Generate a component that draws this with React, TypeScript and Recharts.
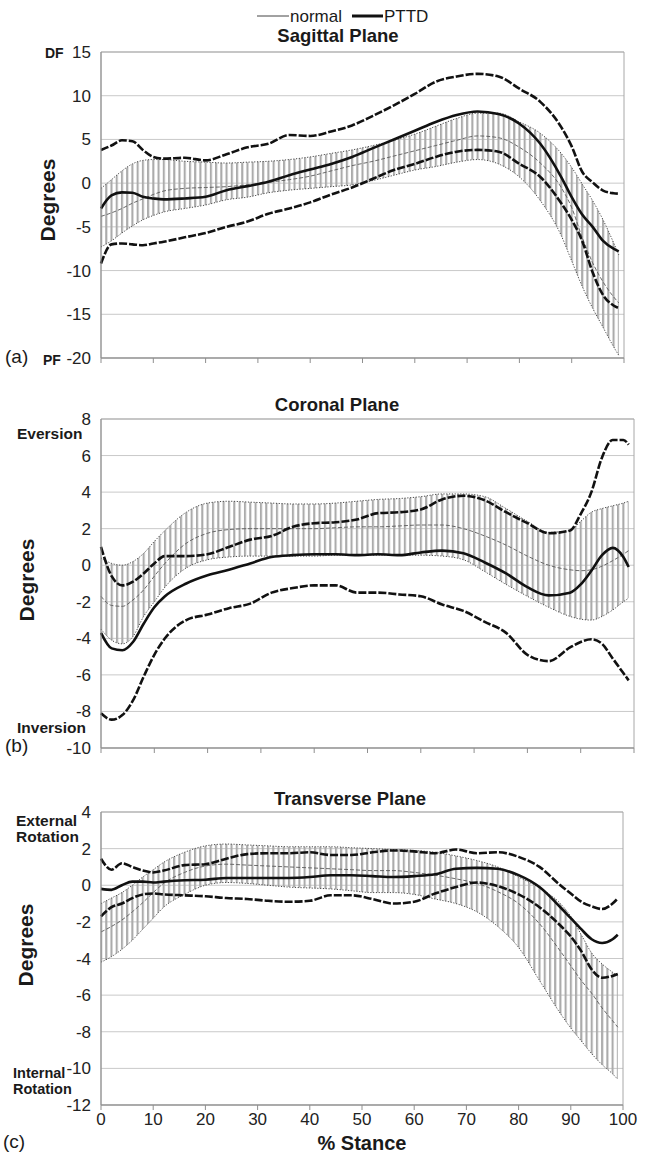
import React from 'react';
import { ComposedChart, Line, Area, XAxis, YAxis, CartesianGrid, ReferenceArea } from 'recharts';

// % stance sample points
const stance = [0, 2, 4, 6, 8, 10, 12, 16, 20, 24, 28, 32, 36, 40, 44, 48, 52, 56, 60, 64, 68, 72, 76, 80, 84, 88, 90, 92, 94, 96, 98, 99];
const xTicks = [0, 10, 20, 30, 40, 50, 60, 70, 80, 90, 100];

// (a) sagittal plane
const sagNormMean = [-3.8, -3.4, -2.9, -2.3, -1.8, -1.3, -0.9, -0.6, -0.5, -0.4, -0.2, 0.1, 0.4, 0.8, 1.4, 2.0, 2.5, 3.1, 3.7, 4.3, 4.9, 5.4, 5.2, 4.1, 2.3, -0.5, -2.8, -6.2, -9.1, -11.3, -13.0, -13.7];
const sagNormHi = [-0.6, 0.4, 1.4, 2.2, 2.6, 2.7, 2.7, 2.5, 2.4, 2.3, 2.4, 2.5, 2.7, 3.0, 3.4, 3.8, 4.3, 4.9, 5.6, 6.5, 7.4, 8.0, 8.0, 7.0, 5.7, 3.4, 1.8, -0.1, -2.0, -4.2, -6.8, -8.2];
const sagNormLo = [-7.3, -6.6, -5.7, -4.9, -4.2, -3.7, -3.3, -2.9, -2.5, -1.9, -1.6, -1.1, -0.8, -0.6, -0.4, -0.2, 0.3, 0.9, 1.5, 1.9, 2.4, 2.7, 2.2, 0.7, -2.0, -6.0, -8.9, -11.8, -14.3, -16.5, -18.7, -19.7];
const sagPttdMean = [-2.9, -1.4, -1.06, -1.1, -1.56, -1.75, -1.86, -1.75, -1.56, -0.8, -0.34, 0.15, 0.9, 1.56, 2.2, 3.0, 4.0, 5.0, 6.0, 7.0, 7.8, 8.2, 7.9, 6.8, 4.5, 0.7, -1.6, -3.6, -5.0, -6.6, -7.5, -7.8];
const sagPttdHi = [3.8, 4.3, 4.9, 4.8, 3.8, 3.0, 2.8, 2.9, 2.6, 3.3, 4.1, 4.5, 5.5, 5.4, 5.9, 6.6, 7.7, 8.9, 10.2, 11.6, 12.2, 12.5, 12.2, 10.8, 9.3, 6.4, 4.2, 1.3, 0.1, -0.85, -1.15, -1.2];
const sagPttdLo = [-9.2, -7.0, -6.9, -7.0, -7.1, -6.9, -6.7, -6.2, -5.7, -5.0, -4.4, -3.5, -2.9, -2.2, -1.3, -0.5, 0.5, 1.5, 2.2, 3.0, 3.6, 3.8, 3.6, 2.2, 0.7, -2.3, -4.2, -6.6, -10.2, -12.8, -14.0, -14.3];

// (b) coronal plane
const corNormMean = [-1.7, -2.2, -2.25, -1.9, -1.35, -0.6, 0.1, 1.2, 1.75, 1.95, 2.0, 2.0, 2.0, 2.0, 2.05, 2.1, 2.1, 2.15, 2.2, 2.2, 2.0, 1.6, 1.1, 0.5, 0.0, -0.25, -0.3, -0.25, -0.05, 0.25, 0.6, 0.8];
const corNormHi = [0.4, 0.1, 0.0, 0.2, 0.65, 1.3, 1.9, 2.9, 3.4, 3.5, 3.45, 3.4, 3.35, 3.35, 3.4, 3.5, 3.6, 3.65, 3.75, 3.9, 3.9, 3.75, 3.1, 2.4, 1.8, 1.9, 2.4, 2.9, 3.1, 3.25, 3.4, 3.5];
const corNormLo = [-3.5, -4.1, -4.3, -3.9, -2.8, -2.0, -1.2, -0.15, 0.3, 0.45, 0.5, 0.5, 0.5, 0.5, 0.55, 0.55, 0.55, 0.55, 0.55, 0.5, 0.3, -0.35, -1.05, -1.7, -2.3, -2.8, -2.95, -3.0, -2.8, -2.45, -2.0, -1.8];
const corPttdMean = [-3.7, -4.55, -4.65, -4.2, -3.2, -2.3, -1.7, -1.0, -0.55, -0.25, 0.1, 0.45, 0.55, 0.6, 0.6, 0.55, 0.6, 0.55, 0.7, 0.8, 0.65, 0.15, -0.45, -1.2, -1.65, -1.5, -1.05, -0.3, 0.55, 0.95, 0.45, -0.1];
const corPttdHi = [1.0, -0.6, -1.1, -0.9, -0.45, 0.1, 0.5, 0.5, 0.6, 1.0, 1.4, 1.6, 2.1, 2.3, 2.35, 2.5, 2.85, 2.9, 3.05, 3.6, 3.8, 3.55, 2.9, 2.3, 1.75, 1.9, 2.8, 4.0, 5.9, 6.85, 6.85, 6.6];
const corPttdLo = [-8.1, -8.45, -8.2, -7.4, -6.1, -4.9, -4.0, -3.0, -2.7, -2.35, -2.1, -1.5, -1.25, -1.1, -1.1, -1.5, -1.5, -1.6, -1.7, -2.15, -2.5, -3.1, -3.7, -4.9, -5.25, -4.5, -4.2, -4.05, -4.3, -5.1, -5.9, -6.3];

// (c) transverse plane
const traNormMean = [-2.55, -2.25, -1.9, -1.45, -0.95, -0.4, 0.1, 0.7, 1.05, 1.15, 1.1, 1.05, 1.0, 0.95, 0.9, 0.85, 0.8, 0.8, 0.7, 0.55, 0.35, 0.1, -0.35, -1.0, -2.1, -3.6, -4.4, -5.2, -5.9, -6.7, -7.4, -7.75];
const traNormHi = [-1.0, -0.7, -0.4, 0.0, 0.45, 0.85, 1.25, 1.8, 2.15, 2.25, 2.2, 2.15, 2.1, 2.1, 2.1, 2.05, 2.0, 1.95, 1.9, 1.8, 1.6, 1.35, 1.0, 0.45, -0.15, -1.0, -1.7, -2.7, -3.7, -4.3, -4.75, -4.95];
const traNormLo = [-4.2, -3.9, -3.5, -3.0, -2.4, -1.8, -1.2, -0.5, 0.0, 0.15, 0.1, 0.0, -0.1, -0.15, -0.2, -0.3, -0.4, -0.4, -0.5, -0.75, -1.0, -1.45, -2.25, -3.4, -5.2, -7.0, -7.8, -8.5, -9.2, -9.8, -10.3, -10.6];
const traPttdMean = [-0.2, -0.25, 0.0, 0.2, 0.2, 0.15, 0.2, 0.27, 0.3, 0.4, 0.4, 0.4, 0.4, 0.45, 0.55, 0.55, 0.5, 0.45, 0.5, 0.6, 0.9, 0.95, 0.9, 0.55, -0.1, -1.2, -1.8, -2.4, -2.95, -3.15, -2.95, -2.7];
const traPttdHi = [1.45, 0.85, 1.2, 1.0, 0.8, 0.7, 0.8, 1.1, 1.15, 1.45, 1.7, 1.75, 1.75, 1.8, 1.65, 1.65, 1.8, 1.9, 1.85, 1.75, 1.95, 1.75, 1.8, 1.55, 1.0, 0.0, -0.45, -0.9, -1.15, -1.3, -1.0, -0.72];
const traPttdLo = [-1.7, -1.2, -1.0, -0.7, -0.5, -0.45, -0.5, -0.55, -0.6, -0.7, -0.75, -0.85, -0.9, -0.85, -0.55, -0.55, -0.75, -1.0, -0.9, -0.45, -0.1, 0.15, -0.05, -0.5, -1.2, -2.2, -2.8, -3.6, -4.6, -5.05, -4.95, -4.85];

const sagTicks = [-20, -15, -10, -5, 0, 5, 10, 15];
const corTicks = [-10, -8, -6, -4, -2, 0, 2, 4, 6, 8];
const traTicks = [-12, -10, -8, -6, -4, -2, 0, 2, 4];

const FONT = '"Liberation Sans", Arial, sans-serif';
const PLOT_LEFT = 101;

interface PanelProps {
  id: string;
  top: number;
  height: number;
  plotTop: number;
  plotBottom: number;
  plotRight: number;
  domain: [number, number];
  ticks: number[];
  xLabels: boolean;
  xAxisHeight: number;
  normMean: number[];
  normLo: number[];
  normHi: number[];
  pttdMean: number[];
  pttdLo: number[];
  pttdHi: number[];
}

const Panel: React.FC<PanelProps> = (p) => {
  const data = stance.map((x, i) => ({
    x,
    normMean: p.normMean[i],
    normLo: p.normLo[i],
    normHi: p.normHi[i],
    band: [p.normLo[i], p.normHi[i]],
    pttdMean: p.pttdMean[i],
    pttdLo: p.pttdLo[i],
    pttdHi: p.pttdHi[i],
  }));
  const unit = (p.plotRight - PLOT_LEFT) / 100;
  const margin = {
    top: p.plotTop - p.top,
    right: 647 - p.plotRight,
    bottom: p.top + p.height - p.plotBottom - p.xAxisHeight,
    left: 0,
  };

  return (
    <div style={{ position: 'absolute', left: 0, top: p.top }}>
      <ComposedChart width={647} height={p.height} data={data} margin={margin}>
        <defs>
          <pattern id={`hatch-${p.id}`} patternUnits="userSpaceOnUse" x={PLOT_LEFT - 1} y={0} width={unit} height={10}>
            <rect x={0} y={0} width={2.1} height={10} fill="#ababab" />
          </pattern>
        </defs>
        <CartesianGrid vertical={false} stroke="#c9c9c9" />
        <XAxis
          dataKey="x"
          type="number"
          domain={[0, 100]}
          ticks={xTicks}
          interval={0}
          height={p.xAxisHeight}
          tickSize={5}
          tickMargin={3}
          axisLine={{ stroke: '#8f8f8f' }}
          tickLine={{ stroke: '#8f8f8f' }}
          tick={{ fontSize: 17, fill: '#222' }}
          tickFormatter={(v) => (p.xLabels ? String(v) : '')}
        />
        <YAxis
          type="number"
          domain={p.domain}
          ticks={p.ticks}
          interval={0}
          width={PLOT_LEFT}
          tickLine={false}
          tickSize={6}
          tickMargin={4}
          axisLine={{ stroke: '#8f8f8f' }}
          tick={{ fontSize: 17, fill: '#222' }}
        />
        <Area
          dataKey="band"
          type="monotone"
          stroke="none"
          fill={`url(#hatch-${p.id})`}
          fillOpacity={1}
          isAnimationActive={false}
        />
        <Line dataKey="normHi" type="monotone" stroke="#4a4a4a" strokeWidth={1} strokeDasharray="1.2 1.6" dot={false} isAnimationActive={false} />
        <Line dataKey="normLo" type="monotone" stroke="#4a4a4a" strokeWidth={1} strokeDasharray="1.2 1.6" dot={false} isAnimationActive={false} />
        <Line dataKey="normMean" type="monotone" stroke="#5a5a5a" strokeWidth={0.9} strokeDasharray="4 2" dot={false} isAnimationActive={false} />
        <Line dataKey="pttdHi" type="monotone" stroke="#111" strokeWidth={2.6} strokeDasharray="8 2" dot={false} isAnimationActive={false} />
        <Line dataKey="pttdLo" type="monotone" stroke="#111" strokeWidth={2.6} strokeDasharray="8 2" dot={false} isAnimationActive={false} />
        <Line dataKey="pttdMean" type="monotone" stroke="#111" strokeWidth={2.6} dot={false} isAnimationActive={false} />
        <ReferenceArea x1={0} x2={100} y1={p.domain[0]} y2={p.domain[1]} fill="none" fillOpacity={0} stroke="#a8a8a8" strokeWidth={1} ifOverflow="visible" />
      </ComposedChart>
    </div>
  );
};

const Label: React.FC<{ x: number; y: number; size: number; bold?: boolean; anchor?: 'left' | 'center'; rotate?: boolean; children: React.ReactNode }> = ({ x, y, size, bold, anchor = 'left', rotate, children }) => (
  <div
    style={{
      position: 'absolute',
      left: x,
      top: y,
      fontSize: size,
      fontWeight: bold ? 'bold' : 'normal',
      lineHeight: 1,
      whiteSpace: 'nowrap',
      color: '#1a1a1a',
      transform: `translate(${anchor === 'center' ? '-50%' : '0'}, -50%)${rotate ? ' rotate(-90deg)' : ''}`,
      transformOrigin: anchor === 'center' ? 'center' : 'left center',
    }}
  >
    {children}
  </div>
);

export default function App() {
  return (
    <div style={{ position: 'absolute', left: 0, top: 0, width: 647, height: 1155, background: '#fff', fontFamily: FONT, overflow: 'hidden' }}>
      {/* legend */}
      <svg style={{ position: 'absolute', left: 0, top: 0 }} width={647} height={30}>
        <line x1={257} x2={289} y1={16} y2={16} stroke="#444" strokeWidth={1} />
        <line x1={352} x2={383} y1={16} y2={16} stroke="#111" strokeWidth={3} />
      </svg>
      <Label x={290} y={16} size={17}>normal</Label>
      <Label x={384} y={16} size={17}>PTTD</Label>

      <Panel
        id="a" top={0} height={372} plotTop={52} plotBottom={358} plotRight={624}
        domain={[-20, 15]} ticks={sagTicks} xLabels={false} xAxisHeight={10}
        normMean={sagNormMean} normLo={sagNormLo} normHi={sagNormHi}
        pttdMean={sagPttdMean} pttdLo={sagPttdLo} pttdHi={sagPttdHi}
      />
      <Panel
        id="b" top={372} height={385} plotTop={419} plotBottom={748} plotRight={634}
        domain={[-10, 8]} ticks={corTicks} xLabels={false} xAxisHeight={8}
        normMean={corNormMean} normLo={corNormLo} normHi={corNormHi}
        pttdMean={corPttdMean} pttdLo={corPttdLo} pttdHi={corPttdHi}
      />
      <Panel
        id="c" top={757} height={398} plotTop={812} plotBottom={1105} plotRight={623}
        domain={[-12, 4]} ticks={traTicks} xLabels={true} xAxisHeight={30}
        normMean={traNormMean} normLo={traNormLo} normHi={traNormHi}
        pttdMean={traPttdMean} pttdLo={traPttdLo} pttdHi={traPttdHi}
      />

      {/* titles */}
      <Label x={338} y={36} size={18.5} bold anchor="center">Sagittal Plane</Label>
      <Label x={337} y={405} size={18.5} bold anchor="center">Coronal Plane</Label>
      <Label x={350} y={799} size={18.5} bold anchor="center">Transverse Plane</Label>

      {/* axis titles */}
      <Label x={47} y={200} size={21} bold anchor="center" rotate>Degrees</Label>
      <Label x={26} y={580} size={21} bold anchor="center" rotate>Degrees</Label>
      <Label x={25} y={945} size={21} bold anchor="center" rotate>Degrees</Label>
      <Label x={362} y={1143} size={20} bold anchor="center">% Stance</Label>

      {/* direction labels */}
      <Label x={45} y={53} size={14} bold>DF</Label>
      <Label x={43} y={360} size={14} bold>PF</Label>
      <Label x={17} y={434} size={15.5} bold>Eversion</Label>
      <Label x={17} y={728} size={15.5} bold>Inversion</Label>
      <Label x={16} y={821} size={15.5} bold>External</Label>
      <Label x={16} y={837} size={15.5} bold>Rotation</Label>
      <Label x={13} y={1073} size={14.5} bold>Internal</Label>
      <Label x={13} y={1089} size={14.5} bold>Rotation</Label>

      {/* panel letters */}
      <Label x={5} y={356} size={19}>(a)</Label>
      <Label x={5} y={745} size={19}>(b)</Label>
      <Label x={3} y={1141} size={19}>(c)</Label>
    </div>
  );
}
